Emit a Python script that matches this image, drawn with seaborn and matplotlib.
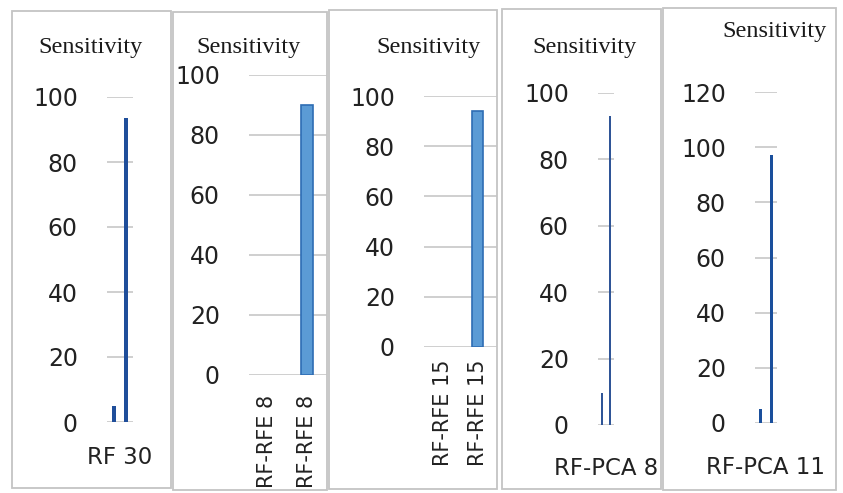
import matplotlib
matplotlib.use("Agg")
import matplotlib.pyplot as plt
from matplotlib.patches import Rectangle
import seaborn as sns

sns.set_style("white")
plt.rcParams['font.family'] = ['DejaVu Sans']

# ---------------- data ----------------
title = "Sensitivity"

p1_categories = ["RF 30"]
p1_series = ["a", "b"]
p1_values = [5, 93.5]

p2_labels = ["RF-RFE 8", "RF-RFE 8"]
p2_values = [0, 90]

p3_labels = ["RF-RFE 15", "RF-RFE 15"]
p3_values = [0, 94]

p4_categories = ["RF-PCA 8"]
p4_series = ["a", "b"]
p4_values = [9.5, 93]

p5_categories = ["RF-PCA 11"]
p5_series = ["a", "b"]
p5_values = [5, 97]

ticks_100 = [0, 20, 40, 60, 80, 100]
ticks_120 = [0, 20, 40, 60, 80, 100, 120]

# ---------------- layout ----------------
W, H = 843, 493
fig = plt.figure(figsize=(W / 100, H / 100), dpi=100)
fig.patch.set_facecolor("white")

def px_axes(x0, x1, ytop, ybot):
    return fig.add_axes([x0 / W, 1 - ybot / H, (x1 - x0) / W, (ybot - ytop) / H])

def border(x0, y0, x1, y1):
    fig.add_artist(Rectangle((x0 / W, 1 - y1 / H), (x1 - x0) / W, (y1 - y0) / H,
                             transform=fig.transFigure, fill=False,
                             edgecolor="#c4c4c4", lw=1.3))

GRID = "#cfcfcf"
TXT = "#222222"
TICKFS = 17

def style(ax, yt, ylim, xlim, ypad=21.0):
    ax.set_ylim(*ylim)
    ax.set_xlim(*xlim)
    ax.set_yticks(yt)
    ax.set_yticklabels([str(t) for t in yt], fontsize=TICKFS, color=TXT)
    for s in ax.spines.values():
        s.set_visible(False)
    ax.yaxis.grid(True, color=GRID, lw=1.4)
    ax.set_axisbelow(True)
    ax.tick_params(axis="y", length=0, pad=ypad)
    ax.set_xlabel("")
    ax.set_ylabel("")
    ax.patch.set_alpha(0)

# panel borders
border(12, 11, 171, 488)
border(173, 12, 327, 490)
border(329, 10, 497, 489)
border(502, 9, 661, 489)
border(663, 8, 836, 490)

# ---- panel 1 ----
ax1 = px_axes(107, 133, 97, 422)
sns.barplot(x=[p1_categories[0]] * 2, y=p1_values, hue=p1_series,
            palette=["#1f4e9a", "#1f4e9a"], width=0.92, gap=0.62,
            saturation=1, legend=False, ax=ax1, linewidth=0)
style(ax1, ticks_100, (0, 100), (-0.5, 0.5))
ax1.tick_params(axis="x", length=0, pad=17, labelsize=16.5, labelcolor=TXT)

# ---- panel 2 ----
ax2 = px_axes(249, 327, 75, 375)
sns.barplot(x=[0, 1], y=p2_values, color="#5b9bd5", width=0.28, saturation=1,
            edgecolor="#2e6db4", linewidth=1.2, ax=ax2)
style(ax2, ticks_100, (0, 100), (-0.45, 1.5))
ax2.set_xticks([0, 1])
ax2.set_xticklabels(p2_labels, rotation=90, fontsize=15, color=TXT)
ax2.tick_params(axis="x", length=0, pad=14)

# ---- panel 3 ----
ax3 = px_axes(424, 497, 96, 347)
sns.barplot(x=[0, 1], y=p3_values, color="#5b9bd5", width=0.31, saturation=1,
            edgecolor="#2e6db4", linewidth=1.2, ax=ax3)
style(ax3, ticks_100, (0, 100), (-0.55, 1.55))
ax3.set_xticks([0, 1])
ax3.set_xticklabels(p3_labels, rotation=90, fontsize=15, color=TXT)
ax3.tick_params(axis="x", length=0, pad=9)

for ax in (ax2, ax3):
    for p in ax.patches:
        if p.get_height() == 0:
            p.set_visible(False)

# ---- panel 4 ----
ax4 = px_axes(598, 614, 93, 425)
sns.barplot(x=[p4_categories[0]] * 2, y=p4_values, hue=p4_series,
            palette=["#2f5597", "#2f5597"], width=1.0, gap=0.68,
            saturation=1, legend=False, ax=ax4, linewidth=0)
style(ax4, ticks_100, (0, 100), (-0.5, 0.5))
ax4.tick_params(axis="x", length=0, pad=23, labelsize=16.5, labelcolor=TXT)

# ---- panel 5 ----
ax5 = px_axes(755, 777, 92, 423)
sns.barplot(x=[p5_categories[0]] * 2, y=p5_values, hue=p5_series,
            palette=["#1a4f9c", "#1a4f9c"], width=1.0, gap=0.64,
            saturation=1, legend=False, ax=ax5, linewidth=0)
style(ax5, ticks_120, (0, 120), (-0.5, 0.5))
ax5.tick_params(axis="x", length=0, pad=24, labelsize=16.5, labelcolor=TXT)

# titles
for (x, y) in [(90, 48), (248, 48), (428, 48), (585, 47), (775, 32)]:
    fig.text(x / W, 1 - y / H, title, ha="center", va="center",
             fontsize=17.5, family="Liberation Serif", color="#1a1a1a")

fig.savefig("out.png", dpi=100, facecolor="white")
